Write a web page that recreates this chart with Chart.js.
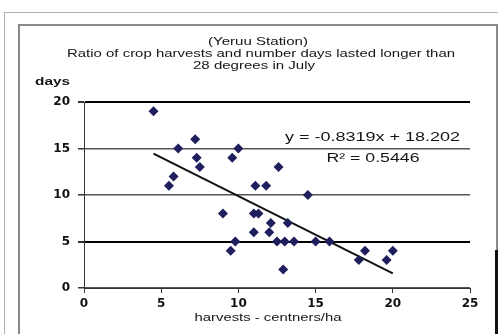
<!DOCTYPE html>
<html>
<head>
<meta charset="utf-8">
<script src="https://cdn.jsdelivr.net/npm/chart.js@4.4.1/dist/chart.umd.min.js"></script>
<style>
  html, body { margin: 0; padding: 0; background: #fff; }
  #wrap { position: relative; width: 498px; height: 334px; overflow: hidden; }
  .frame-outer { position: absolute; left: 4px; top: 12px; width: 520px; height: 340px; border: 1px solid #b0b0b0; }
  .frame-inner { position: absolute; left: 18px; top: 24px; width: 476px; height: 330px; border: 2px solid #8a8a8a; }
  .edge { position: absolute; left: 495px; top: 250px; width: 3px; height: 90px; background: #111; }
  #chart1 { position: absolute; left: 0; top: 0; }
</style>
</head>
<body>
<div id="wrap">
  <div class="frame-outer"></div>
  <div class="frame-inner"></div>
  <div class="edge"></div>
  <canvas id="chart1" width="498" height="334"></canvas>
</div>
<script>
// plony (centners/ha) i liczba dni powyzej 28 stopni
const harvests = [4.5, 5.5, 5.8, 6.1, 7.2, 7.3, 7.5, 9.0, 9.5, 9.6, 9.8, 10.0,
  11.0, 11.3, 11.0, 11.1, 11.8, 12.0, 12.1, 12.6, 12.5, 13.0, 13.6, 13.2,
  12.9, 14.5, 15.0, 15.9, 17.8, 18.2, 19.6, 20.0];
const days = [19, 11, 12, 15, 16, 14, 13, 8, 4, 14, 5, 15,
  8, 8, 6, 11, 11, 6, 7, 13, 5, 5, 5, 7,
  2, 10, 5, 5, 3, 4, 3, 4];

const xTicks = [0, 5, 10, 15, 20, 25];
const yTicks = [0, 5, 10, 15, 20];

const titleLines = ['(Yeruu Station)', 'Ratio of crop harvests and number days lasted longer than', '28 degrees in July'];
const yLabel = 'days';
const xLabel = 'harvests - centners/ha';

// linia trendu
const slope = -0.8319;
const intercept = 18.202;
const rSquared = 0.5446;

const points = harvests.map((h, i) => ({ x: h, y: days[i] }));
const xMin = Math.min(...harvests);
const xMax = Math.max(...harvests);
const trend = [
  { x: xMin, y: slope * xMin + intercept },
  { x: xMax, y: slope * xMax + intercept }
];

const FONT = 'Liberation Sans, Arial, sans-serif';
const TICK_FONT = 'DejaVu Sans, sans-serif';

// tekst rozciagniety w poziomie do zadanej szerokosci
function drawWide(ctx, text, x, y, width, align) {
  const w = ctx.measureText(text).width;
  ctx.save();
  ctx.translate(x, y);
  ctx.scale(width / w, 1);
  ctx.textAlign = align;
  ctx.fillText(text, 0, 0);
  ctx.restore();
}

// napisy: tytul, "days", podpis osi x i rownanie
const textPlugin = {
  id: 'texts',
  afterDraw(chart) {
    const ctx = chart.ctx;
    ctx.save();
    ctx.fillStyle = '#151515';
    ctx.textBaseline = 'middle';

    ctx.font = '11px ' + FONT;
    drawWide(ctx, titleLines[0], 258, 42, 100, 'center');
    drawWide(ctx, titleLines[1], 261, 54, 388, 'center');
    drawWide(ctx, titleLines[2], 254, 66, 122, 'center');

    ctx.font = 'bold 11px ' + FONT;
    drawWide(ctx, yLabel, 70, 82, 35, 'right');

    ctx.font = '11px ' + FONT;
    drawWide(ctx, xLabel, 268, 318, 147, 'center');

    ctx.font = '12px ' + FONT;
    const eq = 'y = ' + slope.toFixed(4) + 'x + ' + intercept.toFixed(3);
    drawWide(ctx, eq, 460, 138, 175, 'right');
    drawWide(ctx, 'R\u00B2 = ' + rSquared.toFixed(4), 373, 159, 93, 'center');
    ctx.restore();
  }
};

new Chart(document.getElementById('chart1'), {
  type: 'scatter',
  data: {
    datasets: [
      {
        label: 'days',
        data: points,
        pointStyle: 'rectRot',
        pointRadius: 5,
        backgroundColor: '#1f1f5e',
        borderColor: '#1f1f5e',
        borderWidth: 0
      },
      {
        type: 'line',
        label: 'trend',
        data: trend,
        borderColor: '#111',
        borderWidth: 2,
        pointRadius: 0,
        fill: false
      }
    ]
  },
  options: {
    responsive: false,
    animation: false,
    layout: { padding: { left: 20, right: 28, top: 102, bottom: 0 } },
    plugins: {
      legend: { display: false },
      tooltip: { enabled: false }
    },
    scales: {
      x: {
        type: 'linear',
        min: 0,
        max: 25,
        afterFit(scale) { scale.height = 46; },
        afterBuildTicks(scale) { scale.ticks = xTicks.map(v => ({ value: v })); },
        grid: { drawOnChartArea: false, drawTicks: true, tickLength: 5, tickColor: '#333', tickWidth: 1 },
        border: { color: '#333', width: 1 },
        ticks: { color: '#111', padding: 4, font: { family: TICK_FONT, size: 12, weight: 'bold' } }
      },
      y: {
        type: 'linear',
        min: 0,
        max: 20,
        afterFit(scale) { scale.width = 64; },
        afterBuildTicks(scale) { scale.ticks = yTicks.map(v => ({ value: v })); },
        grid: {
          color: ctx => (ctx.tick && (ctx.tick.value === 20 || ctx.tick.value === 5)) ? '#000' : '#555',
          lineWidth: ctx => (ctx.tick && (ctx.tick.value === 20 || ctx.tick.value === 5)) ? 2 : 1.5,
          tickLength: 6,
          tickColor: '#333'
        },
        border: { color: '#333', width: 1 },
        ticks: { color: '#111', padding: 8, font: { family: TICK_FONT, size: 12, weight: 'bold' } }
      }
    }
  },
  plugins: [textPlugin]
});
</script>
</body>
</html>
